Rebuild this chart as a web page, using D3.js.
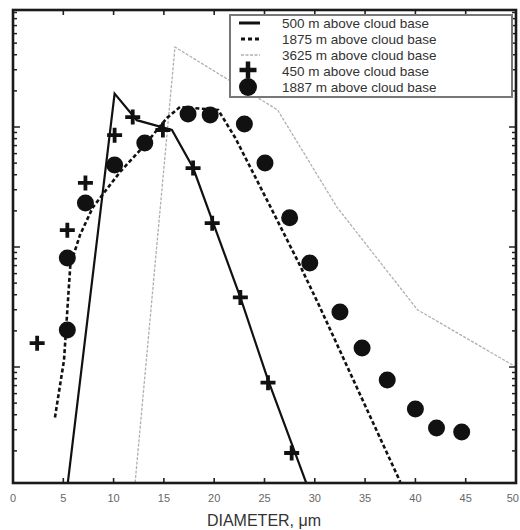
<!DOCTYPE html>
<html><head><meta charset="utf-8">
<script src="https://cdn.jsdelivr.net/npm/d3@7"></script>
<style>body{margin:0;background:#fff}svg{display:block}</style>
</head><body>
<svg id="c" width="520" height="530"></svg>
<script>
// ---- data (diameter in µm, concentration in arbitrary log units) ----
const line500d = [5.4, 10.1, 12.3, 15.8, 17.9, 22.6, 25.35, 29.3];
const line500v = [1.0, 1900, 1140, 945, 457, 38, 7.8, 1.0];

const line1875d = [4.17, 5.07, 5.7, 6.66, 7.95, 10.64, 12.92, 15.3, 16.6, 20.4, 22.1, 25.25, 28.5, 30.5, 38.5];
const line1875v = [3.8, 11.4, 71, 126, 215, 422, 681, 1189, 1468, 1387, 810, 246, 71, 31.6, 1.1];

const line3625d = [12.1, 16.1, 26.3, 32.2, 40.2, 50];
const line3625v = [1.0, 4640, 1387, 215, 30, 10];

const plus450d = [2.4, 5.4, 7.2, 10.1, 11.9, 14.9, 17.9, 19.8, 22.6, 25.35, 27.7];
const plus450v = [15.8, 138, 342, 855, 1210, 944, 455, 158, 38, 7.4, 1.92];

const dot1887d = [5.4, 5.4, 7.2, 10.1, 13.1, 17.4, 19.6, 23.0, 25.05, 27.5, 29.5, 32.5, 34.7, 37.2, 40.0, 42.1, 44.6];
const dot1887v = [20.3, 81, 233, 482, 736, 1283, 1259, 1059, 501, 175, 73.6, 28.7, 14.4, 7.8, 4.47, 3.1, 2.87];

const xTicks = [0, 5, 10, 15, 20, 25, 30, 35, 40, 45, 50];
const legendLabels = ["500 m above cloud base", "1875 m above cloud base", "3625 m above cloud base", "450 m above cloud base", "1887 m above cloud base"];
const xTitle = "DIAMETER, \u03bcm";

// ---- layout ----
const L = 13, R = 516, T = 10, B = 483;
const svg = d3.select("#c");
const x = d3.scaleLinear().domain([0, 50]).range([L, R]);
const y = d3.scaleLog().domain([1, 10000]).range([487, 7]);

svg.append("defs").append("clipPath").attr("id", "clip")
  .append("rect").attr("x", L).attr("y", T).attr("width", R - L).attr("height", B - T);

const plot = svg.append("g").attr("clip-path", "url(#clip)");
const zip = (d, v) => d.map((e, i) => [e, v[i]]);
const lineGen = d3.line().x(p => x(p[0])).y(p => y(p[1]));

plot.append("path").datum(zip(line3625d, line3625v)).attr("d", lineGen)
  .attr("fill", "none").attr("stroke", "#b0b0b0").attr("stroke-width", 1.3).attr("stroke-dasharray", "3,1.5");
plot.append("path").datum(zip(line1875d, line1875v)).attr("d", lineGen)
  .attr("fill", "none").attr("stroke", "#111").attr("stroke-width", 2.6).attr("stroke-dasharray", "4,2.5");
plot.append("path").datum(zip(line500d, line500v)).attr("d", lineGen)
  .attr("fill", "none").attr("stroke", "#111").attr("stroke-width", 2.2);

// markers
plot.selectAll("circle.dot").data(zip(dot1887d, dot1887v)).enter().append("circle")
  .attr("cx", p => x(p[0])).attr("cy", p => y(p[1])).attr("r", 8.5).attr("fill", "#111");

const plusPath = s => `M${-s},0H${s}M0,${-s}V${s}`;
plot.selectAll("path.plus").data(zip(plus450d, plus450v)).enter().append("path")
  .attr("transform", p => `translate(${x(p[0])},${y(p[1])})`)
  .attr("d", plusPath(7.5)).attr("stroke", "#111").attr("stroke-width", 3.8).attr("fill", "none");

// ---- frame and ticks ----
const ax = svg.append("g").attr("stroke", "#222");
xTicks.forEach(t => {
  ax.append("line").attr("x1", x(t)).attr("x2", x(t)).attr("y1", B).attr("y2", B - 5).attr("stroke-width", 1.6);
  ax.append("line").attr("x1", x(t)).attr("x2", x(t)).attr("y1", T).attr("y2", T + 5).attr("stroke-width", 1.6);
});
const yTickVals = [];
for (let e = 0; e < 4; e++) for (let m = 1; m <= 9; m++) {
  const v = m * Math.pow(10, e);
  if (y(v) <= B && y(v) >= T) yTickVals.push([v, m === 1]);
}
yTickVals.forEach(([v, major]) => {
  const len = major ? 7 : 4;
  ax.append("line").attr("x1", L).attr("x2", L + len).attr("y1", y(v)).attr("y2", y(v)).attr("stroke-width", 1.5);
  ax.append("line").attr("x1", R).attr("x2", R - len).attr("y1", y(v)).attr("y2", y(v)).attr("stroke-width", 1.5);
});
svg.append("rect").attr("x", L).attr("y", T).attr("width", R - L).attr("height", B - T)
  .attr("fill", "none").attr("stroke", "#1a1a1a").attr("stroke-width", 2.6);

// tick labels
svg.append("g").selectAll("text").data(xTicks).enter().append("text")
  .attr("x", d => d === 50 ? 519 : x(d)).attr("y", 502)
  .attr("text-anchor", d => d === 50 ? "end" : "middle")
  .attr("font-family", "Liberation Sans, Arial, sans-serif").attr("font-size", 11).attr("fill", "#666")
  .text(d => d);
svg.append("text").attr("x", 264).attr("y", 526).attr("text-anchor", "middle")
  .attr("font-family", "Liberation Sans, Arial, sans-serif").attr("font-size", 16).attr("fill", "#333")
  .text(xTitle);

// ---- legend ----
const lg = svg.append("g");
lg.append("rect").attr("x", 230).attr("y", 15).attr("width", 282).attr("height", 82)
  .attr("fill", "#fff").attr("stroke", "#777").attr("stroke-width", 2);
const rowY = [23, 39, 55, 71, 87];
lg.append("line").attr("x1", 239).attr("x2", 260).attr("y1", rowY[0]).attr("y2", rowY[0]).attr("stroke", "#111").attr("stroke-width", 3);
lg.append("line").attr("x1", 241).attr("x2", 260).attr("y1", rowY[1]).attr("y2", rowY[1]).attr("stroke", "#111").attr("stroke-width", 3).attr("stroke-dasharray", "4,3");
lg.append("line").attr("x1", 241).attr("x2", 260).attr("y1", rowY[2]).attr("y2", rowY[2]).attr("stroke", "#b0b0b0").attr("stroke-width", 1.3).attr("stroke-dasharray", "3,1.5");
lg.append("path").attr("transform", `translate(248,${rowY[3] - 1})`).attr("d", plusPath(8.5)).attr("stroke", "#111").attr("stroke-width", 4.5);
lg.append("circle").attr("cx", 248).attr("cy", rowY[4]).attr("r", 9).attr("fill", "#111");
lg.selectAll("text").data(legendLabels).enter().append("text")
  .attr("x", 282).attr("y", (d, i) => rowY[i] + 5)
  .attr("font-family", "Liberation Sans, Arial, sans-serif").attr("font-size", 13.5).attr("fill", "#333")
  .text(d => d);
</script>
</body></html>
